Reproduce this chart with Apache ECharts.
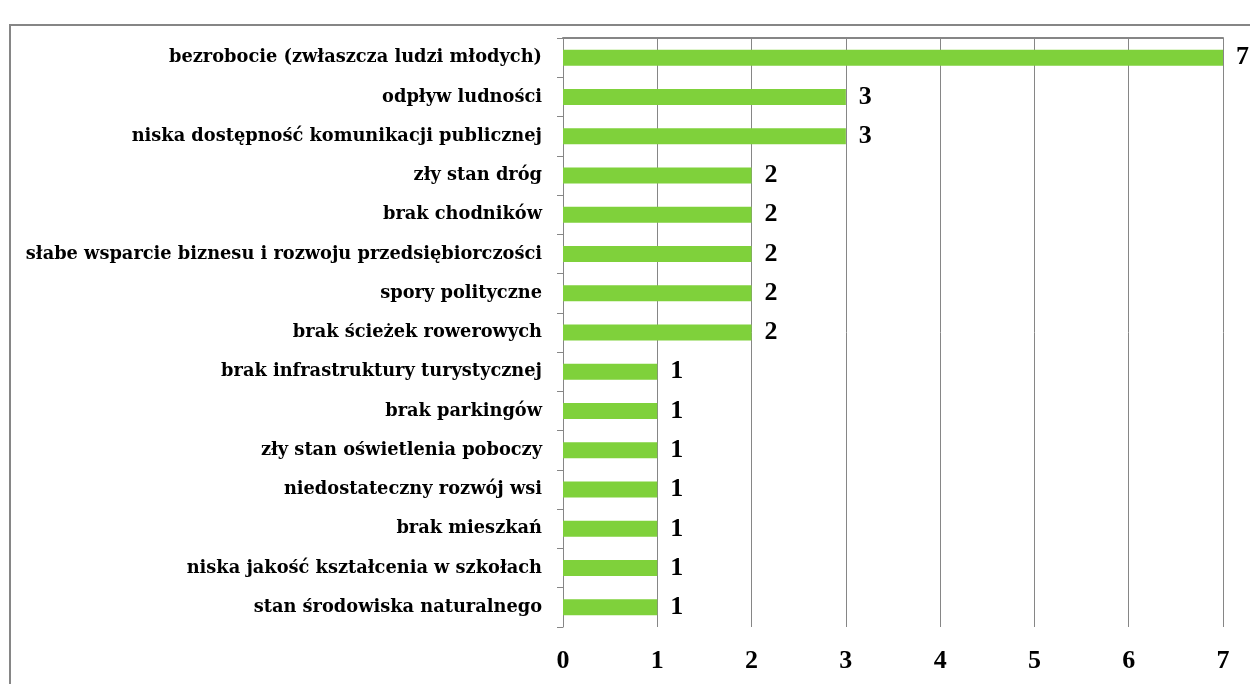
<!DOCTYPE html>
<html>
<head>
<meta charset="utf-8">
<script src="https://cdn.jsdelivr.net/npm/echarts@6/dist/echarts.min.js"></script>
<style>
  html, body { margin: 0; padding: 0; background: #fff; }
  #problemy-chart { width: 1250px; height: 684px; }
</style>
</head>
<body>
<div id="problemy-chart"></div>
<script>
var categories = [
  "bezrobocie (zwłaszcza ludzi młodych)",
  "odpływ ludności",
  "niska dostępność komunikacji publicznej",
  "zły stan dróg",
  "brak chodników",
  "słabe wsparcie biznesu i rozwoju przedsiębiorczości",
  "spory polityczne",
  "brak ścieżek rowerowych",
  "brak infrastruktury turystycznej",
  "brak parkingów",
  "zły stan oświetlenia poboczy",
  "niedostateczny rozwój wsi",
  "brak mieszkań",
  "niska jakość kształcenia w szkołach",
  "stan środowiska naturalnego"
];
var values = [7, 3, 3, 2, 2, 2, 2, 2, 1, 1, 1, 1, 1, 1, 1];
var xTicks = [0, 1, 2, 3, 4, 5, 6, 7];

var gridColor = "#868686";
var serif = "DejaVu Serif";

var chart = echarts.init(document.getElementById("problemy-chart"));
var option = {
  animation: false,
  graphic: [
    {
      type: "rect",
      shape: { x: 10, y: 25, width: 1300, height: 720 },
      style: { fill: "none", stroke: gridColor, lineWidth: 2 },
      silent: true
    }
  ],
  grid: {
    left: 563,
    right: 27,
    top: 38,
    bottom: 57
  },
  xAxis: [
    {
      type: "value",
      min: xTicks[0],
      max: xTicks[xTicks.length - 1],
      interval: 1,
      position: "bottom",
      axisLine: { show: false },
      axisTick: { show: false },
      axisLabel: {
        margin: 21,
        color: "#000",
        fontFamily: "Liberation Serif",
        fontWeight: "bold",
        fontSize: 26
      },
      splitLine: { show: true, lineStyle: { color: gridColor, width: 1 } }
    },
    {
      type: "value",
      min: xTicks[0],
      max: xTicks[xTicks.length - 1],
      interval: 1,
      position: "top",
      axisLine: { show: true, lineStyle: { color: gridColor, width: 2 } },
      axisTick: { show: false },
      axisLabel: { show: false },
      splitLine: { show: false }
    }
  ],
  yAxis: {
    type: "category",
    inverse: true,
    data: categories,
    axisLine: { show: true, lineStyle: { color: gridColor, width: 1 } },
    axisTick: { show: true, length: 6, lineStyle: { color: gridColor } },
    axisLabel: {
      margin: 21,
      color: "#000",
      fontFamily: serif,
      fontWeight: "bold",
      fontSize: 17.8
    }
  },
  series: [
    {
      type: "bar",
      data: values,
      xAxisIndex: 0,
      barWidth: 16,
      itemStyle: { color: "#7fd13b" },
      label: {
        show: true,
        position: "right",
        distance: 13,
        color: "#000",
        fontFamily: "Liberation Serif",
        fontWeight: "bold",
        fontSize: 26
      }
    }
  ]
};
chart.setOption(option);
window.addEventListener("resize", function () {
  chart.resize();
});
</script>
</body>
</html>
